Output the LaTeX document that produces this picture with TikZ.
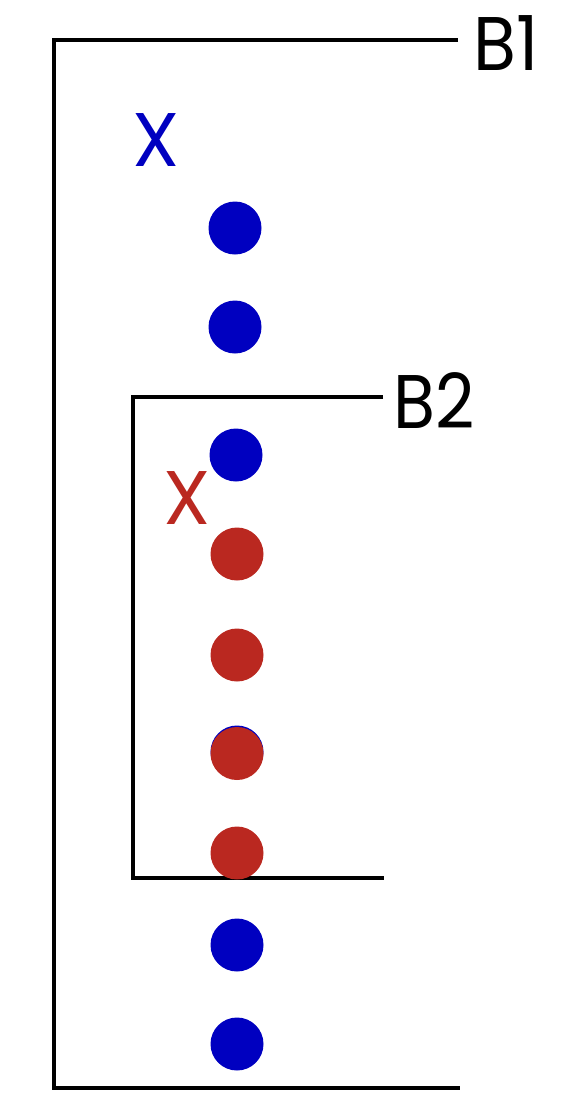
\documentclass[tikz,border=0pt]{standalone}
\usepackage{fontspec}
\setmainfont{Poppins}
\definecolor{dotblue}{RGB}{0,0,192}
\definecolor{dotred}{RGB}{186,40,32}
\begin{document}
\begin{tikzpicture}[x=1pt,y=-1pt,
  bracket/.style={line width=4.2pt},
  dot/.style={circle,inner sep=0pt,minimum size=53pt},
  bluedot/.style={dot,fill=dotblue},
  reddot/.style={dot,fill=dotred},
  lbl/.style={inner sep=0pt,font=\fontsize{76}{80}\selectfont}]
\useasboundingbox (0,0) rectangle (572,1104);
% outer bracket B1
\coordinate (b1a) at (458,40);
\coordinate (b1b) at (54,40);
\coordinate (b1c) at (54,1088);
\coordinate (b1d) at (460,1088);
\draw[bracket] (b1a) -- (b1b) -- (b1c) -- (b1d);
\node[lbl,anchor=base west] (B1) at (473,70) {\scalebox{0.92}[1]{B1}};
% inner bracket B2
\coordinate (b2a) at (383,397);
\coordinate (b2b) at (133,397);
\coordinate (b2c) at (133,878);
\coordinate (b2d) at (384,878);
\draw[bracket] (b2a) -- (b2b) -- (b2c) -- (b2d);
\node[lbl,anchor=base west] (B2) at (393,428) {\scalebox{0.9}[1]{B2}};
% X labels
\node[lbl,anchor=base,text=dotblue] (X1) at (156,166) {X};
\node[lbl,anchor=base,text=dotred] (X2) at (187,524) {X};
% dots
\node[bluedot] (d1) at (235,228) {};
\node[bluedot] (d2) at (235,327) {};
\node[bluedot] (d3) at (236,455) {};
\node[reddot] (d4) at (237,554) {};
\node[reddot] (d5) at (237,655) {};
\node[bluedot] (d6b) at (237,752) {};
\node[reddot] (d6) at (237,753.5) {};
\node[reddot] (d7) at (237,853) {};
\node[bluedot] (d8) at (237,945) {};
\node[bluedot] (d9) at (237,1044) {};
\end{tikzpicture}
\end{document}
